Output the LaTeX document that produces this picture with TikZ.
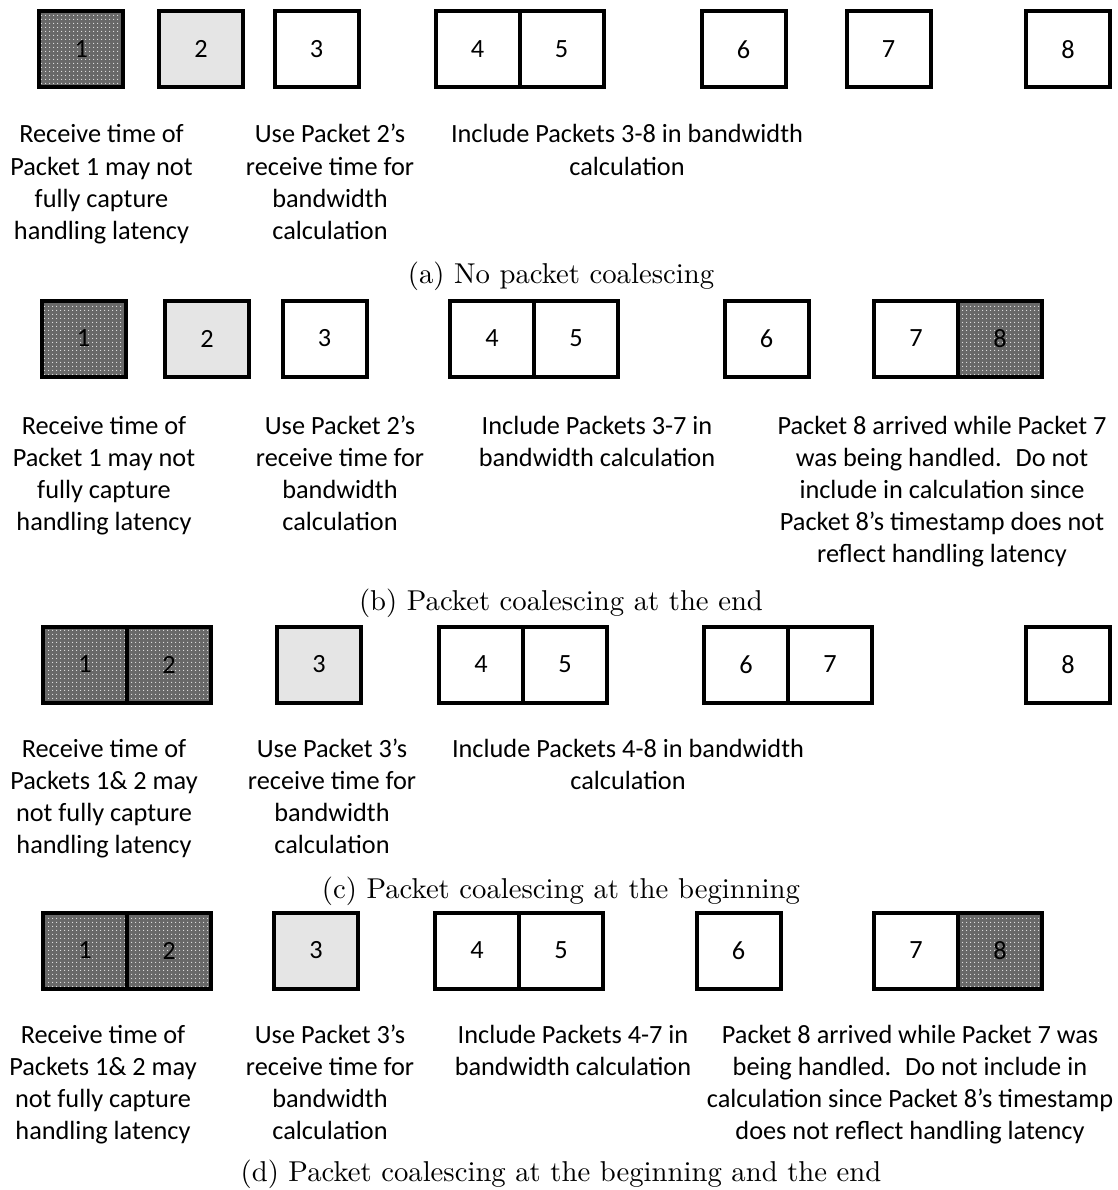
\documentclass[tikz,border=0pt]{standalone}
\usepackage{fontspec}
\usetikzlibrary{patterns}
\newfontfamily\lblfont{Carlito}
\newfontfamily\capfont[Extension=.otf]{lmroman10-regular}
\definecolor{pktdark}{RGB}{104,104,104}
\pgfdeclarepatternformonly{pktdots}{\pgfpointorigin}{\pgfpoint{3.6pt}{3.6pt}}{\pgfpoint{3.6pt}{3.6pt}}{%
  \pgfpathcircle{\pgfpoint{1.8pt}{1.8pt}}{0.65pt}\pgfusepath{fill}}
\begin{document}
\begin{tikzpicture}[
  x=1pt, y=-1pt,
  pkt/.style={draw, line width=4pt, minimum width=84pt, minimum height=76pt, inner sep=0pt, font=\lblfont\fontsize{26.3}{32.2}\selectfont},
  lost/.style={pkt, preaction={fill=pktdark}, pattern=pktdots, pattern color=white!85!pktdark},
  base/.style={pkt, fill=gray!20},
  note/.style={align=center, anchor=base, inner sep=0pt, font=\lblfont\fontsize{26.3}{32.2}\selectfont},
  subcap/.style={anchor=base, inner sep=0pt, font=\capfont\fontsize{28.7}{34}\selectfont}
]
\useasboundingbox (0,0) rectangle (1117,1190);

% (a)
\node[lost] (a1) at (81.4,49.3)  {1};
\node[base] (a2) at (201,49.3)   {2};
\node[pkt]  (a3) at (316.5,49.3) {3};
\node[pkt]  (a4) at (477.5,49.3) {4};
\node[pkt]  (a5) at (561.5,49.3) {5};
\node[pkt]  (a6) at (743.5,49.3) {6};
\node[pkt]  (a7) at (888.5,49.3) {7};
\node[pkt]  (a8) at (1068,49.3)  {8};
% notes sit on the baseline of their last line
\node[note] (an1) at (101.5,239.6) {Receive time of\\Packet 1 may not\\fully capture\\handling latency};
\node[note] (an2) at (330,239.6)   {Use Packet 2’s\\receive time for\\bandwidth\\calculation};
\node[note] (an3) at (627,175.2)   {Include Packets 3-8 in bandwidth\\calculation};
\node[subcap] (acap) at (561,283) {(a) No packet coalescing};

% (b)
\node[lost] (b1) at (83.5,338.5)  {1};
\node[base] (b2) at (207,338.5)   {2};
\node[pkt]  (b3) at (324.5,338.5) {3};
\node[pkt]  (b4) at (492,338.5)   {4};
\node[pkt]  (b5) at (576,338.5)   {5};
\node[pkt]  (b6) at (766.5,338.5) {6};
\node[pkt]  (b7) at (916,338.5)   {7};
\node[lost] (b8) at (1000,338.5)  {8};
\node[note] (bn1) at (104,530.6) {Receive time of\\Packet 1 may not\\fully capture\\handling latency};
\node[note] (bn2) at (340,530.6) {Use Packet 2’s\\receive time for\\bandwidth\\calculation};
\node[note] (bn3) at (597,466.2) {Include Packets 3-7 in\\bandwidth calculation};
\node[note] (bn4) at (942,562.8) {Packet 8 arrived while Packet 7\\was being handled.~ Do not\\include in calculation since\\Packet 8’s timestamp does not\\reflect handling latency};
\node[subcap] (bcap) at (561,610) {(b) Packet coalescing at the end};

% (c)
\node[lost] (c1) at (85,664.5)   {1};
\node[lost] (c2) at (169,664.5)  {2};
\node[base] (c3) at (319,664.5)  {3};
\node[pkt]  (c4) at (481,664.5)  {4};
\node[pkt]  (c5) at (565,664.5)  {5};
\node[pkt]  (c6) at (746,664.5)  {6};
\node[pkt]  (c7) at (830,664.5)  {7};
\node[pkt]  (c8) at (1068,664.5) {8};
\node[note] (cn1) at (104,853.6) {Receive time of\\Packets 1\& 2 may\\not fully capture\\handling latency};
\node[note] (cn2) at (332,853.6) {Use Packet 3’s\\receive time for\\bandwidth\\calculation};
\node[note] (cn3) at (628,789.2) {Include Packets 4-8 in bandwidth\\calculation};
\node[subcap] (ccap) at (561,898) {(c) Packet coalescing at the beginning};

% (d)
\node[lost] (d1) at (85,950.5)    {1};
\node[lost] (d2) at (169,950.5)   {2};
\node[base] (d3) at (316,950.5)   {3};
\node[pkt]  (d4) at (477,950.5)   {4};
\node[pkt]  (d5) at (561,950.5)   {5};
\node[pkt]  (d6) at (738.5,950.5) {6};
\node[pkt]  (d7) at (916,950.5)   {7};
\node[lost] (d8) at (1000,950.5)  {8};
\node[note] (dn1) at (103,1139.6) {Receive time of\\Packets 1\& 2 may\\not fully capture\\handling latency};
\node[note] (dn2) at (330,1139.6) {Use Packet 3’s\\receive time for\\bandwidth\\calculation};
\node[note] (dn3) at (573,1075.2) {Include Packets 4-7 in\\bandwidth calculation};
\node[note] (dn4) at (910,1139.6) {Packet 8 arrived while Packet 7 was\\being handled.~ Do not include in\\calculation since Packet 8’s timestamp\\does not reflect handling latency};
\node[subcap] (dcap) at (561,1181) {(d) Packet coalescing at the beginning and the end};
\end{tikzpicture}
\end{document}
